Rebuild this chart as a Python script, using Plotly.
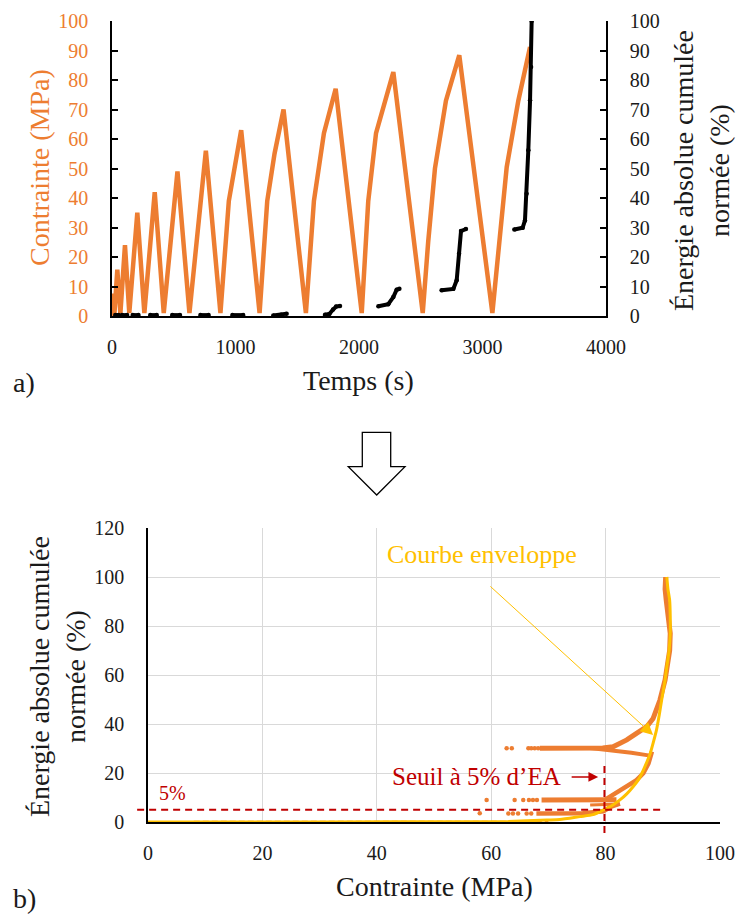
import plotly.graph_objects as go

# ---------------- DATA ----------------
# a) stress vs time (left axis)
time_s = [0, 11, 20, 43, 68, 105, 140, 205, 262, 346, 419, 530, 627, 760, 878,
          946, 1046, 1195, 1257, 1316, 1389, 1570, 1635, 1716, 1811, 2022, 2075,
          2138, 2278, 2516, 2560, 2615, 2704, 2812, 3080, 3196, 3290, 3385]
stress_mpa = [0, 7.6, 1, 15.7, 1, 24, 1, 35, 1, 42, 1, 49, 1, 56, 1,
              39, 63, 1, 39, 55, 70, 1, 39, 62, 77, 1, 39,
              62, 82.7, 1, 25, 50, 73, 88.4, 1, 50.5, 73, 91.2]

# a) normalised cumulative absolute energy vs time (right axis), hit clusters
energy_time = [27, 54, None, 81, 122, None, 168, 214, None, 310, 362, None,
               488, 550, None, 716, 782, None, 975, 1062, None,
               1306, 1370, 1414, None,
               1725, 1760, 1790, 1815, 1846, None,
               2157, 2237, 2278, 2305, 2327, None,
               2669, 2764, 2791, 2810, 2826, 2866, None,
               3258, 3325, 3344, 3357, 3371, 3385, 3393, 3398]
energy_pct = [0.3, 0.3, None, 0.3, 0.3, None, 0.3, 0.3, None, 0.3, 0.3, None,
              0.3, 0.3, None, 0.3, 0.3, None, 0.3, 0.3, None,
              0.2, 0.4, 0.8, None,
              0.4, 0.7, 2.2, 3.2, 3.4, None,
              3.3, 4.0, 6.4, 8.9, 9.2, None,
              8.7, 9.2, 12.1, 21.1, 28.8, 29.5, None,
              29.3, 29.9, 32.4, 41.4, 56.2, 73.1, 84.4, 100]

# b) energy vs stress : acoustic data branches
low_stress = [8, 70]
low_energy = [-0.1, -0.1]

branch3_stress = [67.9, 72, 76, 79.6, 81, 82.5]
branch3_energy = [3.5, 3.5, 3.6, 4.4, 6.3, 7.5]

branch7_stress = [77.3, 80, 82.5]
branch7_energy = [6.9, 7.0, 7.3]

branch9_stress = [68.8, 74, 78, 81.9]
branch9_energy = [9.0, 9.0, 9.0, 9.1]

rise9_stress = [80.0, 81.3, 83.7, 85.4, 86.6, 87.5, 88.1]
rise9_energy = [9.2, 11.0, 14.4, 17.1, 19.9, 23.9, 28.7]

branch30_stress = [68.5, 75, 79.5, 81.3, 83.7, 85.4, 87.2, 88.3, 89.5, 90.4,
                   90.8, 91.2, 91.3, 91.0, 90.6, 90.4, 90.5]
branch30_energy = [30.1, 30.1, 30.2, 30.7, 33.5, 36.2, 38.9, 42.2, 49.8, 58,
                   63.4, 70, 77, 85, 90.5, 95, 100]

lower30_stress = [77.3, 81, 84.5, 87.2, 88.1]
lower30_energy = [30.2, 29.3, 28.3, 27.3, 27.0]

dots_stress = [62.7, 63.6, 66.5, 67.0, 67.6, 68.2,
               59.2, 64.1, 65.6, 66.6, 67.3, 68.0,
               58.0, 63.0, 63.8, 64.7, 66.2, 67.0]
dots_energy = [30.1, 30.1, 30.1, 30.1, 30.1, 30.1,
               9.0, 9.0, 9.0, 9.0, 9.0, 9.0,
               3.6, 3.5, 3.5, 3.5, 3.5, 3.5]

# b) envelope curve
env_stress = [0, 30, 58, 63, 69.7, 72, 75.5, 77.8, 79.6, 81, 82.5, 83.7, 84.8,
              85.8, 86.6, 87.3, 87.8, 88.4, 88.9, 89.4, 89.8, 90.4, 90.7, 91.1,
              91.3, 91.3, 91.2, 90.9, 90.7]
env_energy = [0, 0.05, 0.1, 0.2, 0.8, 1, 2.2, 3, 4.9, 6.5, 9, 11.5, 14.4,
              17.5, 21.2, 25, 28, 33, 37.6, 44, 49.8, 58, 63.4, 70,
              76.9, 84, 90.5, 95, 100]

threshold_pct = 5
threshold_stress = 79.8

top_ticks_x = [0, 1000, 2000, 3000, 4000]

# ---------------- STYLE ----------------
W, H = 736, 915
ORANGE = "#ED7D31"
YELLOW = "#FFC000"
RED = "#C00000"
TXT = "#1a1a1a"
GRID = "#D9D9D9"
FONT = "Liberation Serif"


def px(x):
    return x / W


def py(y):
    return 1 - y / H


fig = go.Figure()

# ----- a) -----
fig.add_trace(go.Scatter(x=time_s, y=stress_mpa, mode="lines",
                         line=dict(color=ORANGE, width=4.5),
                         xaxis="x", yaxis="y", showlegend=False))
fig.add_trace(go.Scatter(x=energy_time, y=energy_pct, mode="lines+markers",
                         line=dict(color="black", width=4),
                         marker=dict(color="black", size=4.5),
                         connectgaps=False,
                         xaxis="x", yaxis="y2", showlegend=False))

# ----- b) -----
fig.add_trace(go.Scatter(x=low_stress, y=low_energy, mode="lines",
                         line=dict(color=ORANGE, width=3, dash="6px,3px"),
                         xaxis="x2", yaxis="y3", showlegend=False))
for xs, ys, w in [(branch3_stress, branch3_energy, 4.5),
                  (branch7_stress, branch7_energy, 3),
                  (branch9_stress, branch9_energy, 5),
                  (rise9_stress, rise9_energy, 4.5),
                  (branch30_stress, branch30_energy, 5),
                  (lower30_stress, lower30_energy, 4)]:
    fig.add_trace(go.Scatter(x=xs, y=ys, mode="lines",
                             line=dict(color=ORANGE, width=w),
                             xaxis="x2", yaxis="y3", showlegend=False))
fig.add_trace(go.Scatter(x=dots_stress, y=dots_energy, mode="markers",
                         marker=dict(color=ORANGE, size=4.5),
                         xaxis="x2", yaxis="y3", showlegend=False))
fig.add_trace(go.Scatter(x=env_stress, y=env_energy, mode="lines",
                         line=dict(color=YELLOW, width=3, shape="spline", smoothing=0.6),
                         xaxis="x2", yaxis="y3", showlegend=False))

tickfont = dict(family=FONT, size=20, color=TXT)

fig.update_layout(
    width=W, height=H,
    margin=dict(l=0, r=0, t=0, b=0, autoexpand=False),
    paper_bgcolor="white", plot_bgcolor="white",
    font=dict(family=FONT, color=TXT),
    xaxis=dict(domain=[px(112), px(606)], range=[0, 4000],
               tickvals=top_ticks_x, showgrid=False, zeroline=False,
               showline=True, linecolor="black", linewidth=1.5,
               ticks="", tickfont=tickfont, ticklabelstandoff=12,
               anchor="y", layer="below traces", automargin=False),
    yaxis=dict(domain=[py(316), py(21)], range=[0, 100], dtick=10,
               showgrid=False, zeroline=False, showline=True,
               linecolor="black", linewidth=1.5, ticks="inside", ticklen=6,
               tickcolor="black", tickwidth=1.5,
               tickfont=dict(family=FONT, size=20, color=ORANGE),
               ticklabelstandoff=18, anchor="x", automargin=False),
    yaxis2=dict(domain=[py(316), py(21)], range=[0, 100], dtick=10,
                overlaying="y", side="right", anchor="x",
                showgrid=False, zeroline=False, showline=True,
                linecolor="black", linewidth=1.5, ticks="inside", ticklen=6,
                tickcolor="black", tickwidth=1.5, tickfont=tickfont,
                ticklabelstandoff=18, automargin=False),
    xaxis2=dict(domain=[px(148), px(720)], range=[0, 100], dtick=20,
                showgrid=True, gridcolor=GRID, gridwidth=1.3, zeroline=False,
                showline=True, linecolor="black", linewidth=1.5, ticks="",
                tickfont=tickfont, ticklabelstandoff=12, anchor="y3",
                layer="below traces", automargin=False),
    yaxis3=dict(domain=[py(822), py(528)], range=[0, 120], dtick=20,
                showgrid=True, gridcolor=GRID, gridwidth=1.3, zeroline=False,
                showline=True, linecolor="black", linewidth=1.5, ticks="",
                tickfont=tickfont, ticklabelstandoff=18, anchor="x2",
                layer="below traces", automargin=False),
)

title_font = dict(family=FONT, size=28, color=TXT)
C = dict(xanchor="center", yanchor="middle")
ann = [
    dict(text="Temps (s)", x=px(358), y=py(380), xref="paper", yref="paper",
         showarrow=False, font=title_font, **C),
    dict(text="Contrainte (MPa)", x=px(40), y=py(168), xref="paper", yref="paper",
         showarrow=False, textangle=-90,
         font=dict(family=FONT, size=28, color=ORANGE), **C),
    dict(text="Énergie absolue cumulée<br>normée (%)", x=px(701), y=py(171),
         xref="paper", yref="paper", showarrow=False, textangle=-90,
         font=title_font, **C),
    dict(text="a)", x=px(24), y=py(382), xref="paper", yref="paper",
         showarrow=False, font=title_font, **C),
    dict(text="Contrainte (MPa)", x=px(434), y=py(886), xref="paper", yref="paper",
         showarrow=False, font=title_font, **C),
    dict(text="Énergie absolue cumulée<br>normée (%)", x=px(57), y=py(677),
         xref="paper", yref="paper", showarrow=False, textangle=-90,
         font=title_font, **C),
    dict(text="b)", x=px(24), y=py(898), xref="paper", yref="paper",
         showarrow=False, font=title_font, **C),
    # annotations in chart b
    dict(text="Courbe enveloppe", x=58.4, y=109, xref="x2", yref="y3",
         showarrow=False, font=dict(family=FONT, size=26, color=YELLOW), **C),
    dict(text="", x=88.3, y=35.5, ax=59.6, ay=96.7, xref="x2", yref="y3",
         axref="x2", ayref="y3", showarrow=True, arrowhead=2, arrowsize=2.5,
         arrowwidth=1, arrowcolor=YELLOW),
    dict(text="Seuil à 5% d’EA", x=72.6, y=18.4, xref="x2", yref="y3",
         xanchor="right", yanchor="middle", showarrow=False,
         font=dict(family=FONT, size=25, color=RED)),
    dict(text="", x=78.7, y=18.4, ax=73.8, ay=18.4, xref="x2", yref="y3",
         axref="x2", ayref="y3", showarrow=True, arrowhead=2, arrowsize=1.3,
         arrowwidth=1.5, arrowcolor=RED),
    dict(text="5%", x=1.5, y=11.8, xref="x2", yref="y3", xanchor="left",
         yanchor="middle", showarrow=False,
         font=dict(family=FONT, size=20, color=RED)),
]
fig.update_layout(annotations=ann)

shapes = [
    # threshold lines (domain refs so they can extend past the axes)
    dict(type="line", xref="x2 domain", yref="y3 domain",
         x0=-0.019, x1=0.904, y0=threshold_pct / 120, y1=threshold_pct / 120,
         line=dict(color=RED, width=2, dash="7px,5px")),
    dict(type="line", xref="x2 domain", yref="y3 domain",
         x0=threshold_stress / 100, x1=threshold_stress / 100,
         y0=-0.037, y1=23.3 / 120,
         line=dict(color=RED, width=2, dash="7px,5px")),
    # big hollow down arrow between the two charts
    dict(type="path", xref="paper", yref="paper",
         path=(f"M {px(362.3)} {py(432.3)} L {px(390.7)} {py(432.3)} "
               f"L {px(390.7)} {py(466.7)} L {px(405)} {py(466.7)} "
               f"L {px(376.7)} {py(495)} L {px(348.3)} {py(466.7)} "
               f"L {px(362.3)} {py(466.7)} Z"),
         line=dict(color="black", width=1.3), fillcolor="white"),
]
fig.update_layout(shapes=shapes)

fig.write_html("out.html",
               config={"displayModeBar": False},
               post_script="document.body.style.margin='0';"
                           "document.body.style.overflow='hidden';")
